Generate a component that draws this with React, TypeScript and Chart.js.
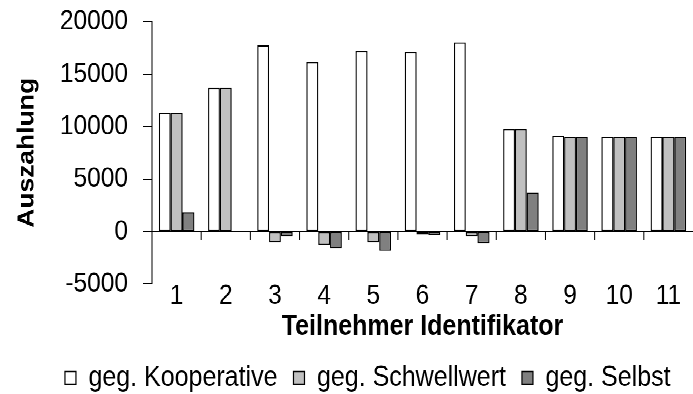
import React, { useEffect, useRef } from 'react';
import { Chart, registerables } from 'chart.js';

Chart.register(...registerables);

// ---- data ----
const categories = ['1', '2', '3', '4', '5', '6', '7', '8', '9', '10', '11'];
const seriesNames = ['geg. Kooperative', 'geg. Schwellwert', 'geg. Selbst'];
const kooperative = [11300, 13700, 17750, 16150, 17200, 17100, 18050, 9750, 9150, 9000, 9000];
const schwellwert = [11300, 13700, -1050, -1250, -1050, -300, -450, 9750, 9000, 9000, 9000];
const selbst = [1850, 0, -450, -1600, -1850, -350, -1100, 3700, 9000, 9000, 9000];
const yMin = -5000;
const yMax = 20000;
const yStep = 5000;
const xTitle = 'Teilnehmer Identifikator';
const yTitle = 'Auszahlung';

const FONT = "'Liberation Sans', Arial, Helvetica, sans-serif";
const CANVAS_W = 693;
const CANVAS_H = 343;
const SCREEN_H = 394;

const axisMarks = {
  id: 'axisMarks',
  afterDatasetsDraw(chart: any) {
    const { ctx, chartArea, scales } = chart;
    const x = scales.x;
    const y = scales.y;
    const y0 = y.getPixelForValue(0);
    ctx.save();
    ctx.strokeStyle = '#000';
    ctx.lineWidth = 1;
    ctx.beginPath();
    ctx.moveTo(chartArea.left, y0);
    ctx.lineTo(chartArea.right, y0);
    for (let i = 1; i < categories.length; i++) {
      const xb = (x.getPixelForValue(i - 1) + x.getPixelForValue(i)) / 2;
      ctx.moveTo(xb, y0);
      ctx.lineTo(xb, y0 + 7);
    }
    ctx.stroke();
    ctx.restore();
  },
};

export default function App() {
  const ref = useRef<HTMLCanvasElement>(null);

  useEffect(() => {
    if (!ref.current) return;
    const common = { borderColor: '#000000', borderWidth: 1.2, borderSkipped: false as const };
    const chart = new Chart(ref.current, {
      type: 'bar',
      data: {
        labels: categories,
        datasets: [
          { label: seriesNames[0], data: kooperative, backgroundColor: '#FFFFFF', ...common },
          { label: seriesNames[1], data: schwellwert, backgroundColor: '#C0C0C0', ...common },
          { label: seriesNames[2], data: selbst, backgroundColor: '#808080', ...common },
        ],
      },
      options: {
        animation: false,
        responsive: true,
        maintainAspectRatio: false,
        devicePixelRatio: 2,
        layout: { padding: { left: 42.5, top: 18.9, right: 0, bottom: -8.5 } },
        datasets: { bar: { categoryPercentage: 0.72, barPercentage: 1 } },
        plugins: {
          legend: {
            position: 'bottom',
            labels: {
              boxWidth: 11,
              boxHeight: 11,
              padding: 16,
              color: '#000',
              font: { size: 25, family: FONT },
            },
          },
          tooltip: { enabled: false },
        },
        scales: {
          x: {
            grid: { display: false },
            border: { display: false },
            ticks: { color: '#000', font: { size: 24.5, family: FONT }, padding: -12 },
            title: {
              display: true,
              text: xTitle,
              color: '#000',
              font: { size: 25, weight: 'bold', family: FONT },
              padding: { top: 0, bottom: 0.8 },
            },
            afterFit: (s: any) => {
              s.height = 53.3;
              s.paddingLeft = 0;
              s.paddingRight = 0;
            },
          },
          y: {
            min: yMin,
            max: yMax,
            ticks: {
              stepSize: yStep,
              color: '#000',
              font: { size: 24.5, family: FONT },
              padding: 15,
              callback: (v: any) => String(v),
            },
            grid: { drawOnChartArea: false, drawTicks: true, tickLength: 9, color: '#000' },
            border: { display: true, color: '#000', width: 1 },
            title: {
              display: true,
              text: yTitle,
              color: '#000',
              font: { size: 23, weight: 'bold', family: FONT },
              padding: { top: -29.3, bottom: 0 },
            },
            afterFit: (s: any) => {
              s.width = 109.5;
              s.paddingTop = 0;
              s.paddingBottom = 0;
            },
          },
        },
      } as any,
      plugins: [axisMarks],
    });
    return () => chart.destroy();
  }, []);

  return (
    <div
      style={{
        position: 'absolute',
        left: 0,
        top: 0,
        width: CANVAS_W,
        height: CANVAS_H,
        transform: `scaleY(${SCREEN_H / CANVAS_H})`,
        transformOrigin: '0 0',
        background: '#fff',
      }}
    >
      <canvas ref={ref} />
    </div>
  );
}
